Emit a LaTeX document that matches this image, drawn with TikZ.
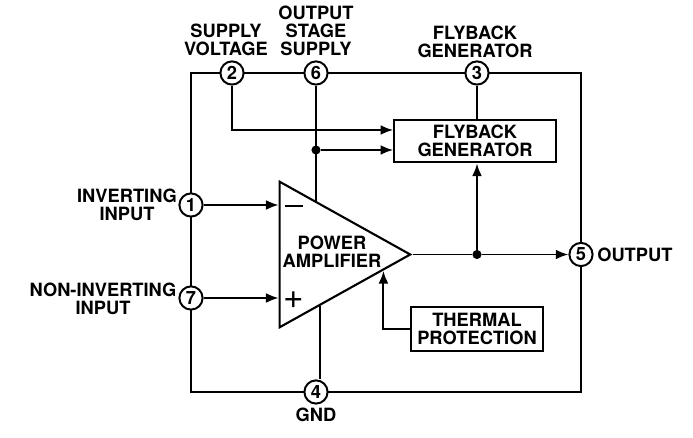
\documentclass[tikz,border=0pt]{standalone}
\usepackage{fontspec}
\setmainfont{TeX Gyre Heros}
\usetikzlibrary{positioning, arrows.meta, shapes.geometric, calc}
\begin{document}
\begin{tikzpicture}[
  x=0.025cm, y=-0.025cm,
  wire/.style={line width=1.4pt},
  sig/.style={line width=1.4pt, -{Latex[length=9pt,width=7pt]}},
  pin/.style={circle, draw, line width=1.4pt, fill=white, minimum size=16.5pt, inner sep=0pt, font=\fontsize{13}{13}\selectfont\bfseries},
  block/.style={draw, line width=1.5pt, fill=white, align=center, inner sep=0pt, font=\fontsize{13}{13}\selectfont\bfseries},
  lbl/.style={align=center, inner sep=0pt, font=\fontsize{13}{13}\selectfont\bfseries},
  dot/.style={circle, fill=black, minimum size=6.5pt, inner sep=0pt},
]
  \useasboundingbox (0,0) rectangle (693,438);
  % outer frame with the pins on it
  \coordinate (tl) at (191,73);
  \coordinate (br) at (581,392);
  \draw[line width=1.5pt] (tl) rectangle (br);

  % amplifier
  \node[isosceles triangle, isosceles triangle stretches, draw, line width=1.5pt, fill=white,
        minimum width=146*0.7087pt, minimum height=131*0.7087pt, inner sep=0pt, anchor=apex]
        (amp) at (413,254.5) {};
  \node[lbl] (amptext) at (332,252) {POWER\\AMPLIFIER};
  \node[lbl] (minus) at (294,206) {\rule{12.5pt}{1pt}};
  \node[lbl, font=\fontsize{25}{25}\selectfont] (plus) at (293.5,300) {+};
  \coordinate (ampsup) at ($(amp.left corner)!0.276!(amp.apex)$);
  \coordinate (ampth) at ($(amp.right corner)!0.78!(amp.apex)$);
  \coordinate (ampgnd) at ($(amp.right corner)!0.31!(amp.apex)$);

  % blocks
  \node[block, minimum width=162*0.7087pt, minimum height=43*0.7087pt] (fly) at (475,141) {FLYBACK\\GENERATOR};
  \node[block, minimum width=132*0.7087pt, minimum height=44*0.7087pt] (therm) at (477,329) {THERMAL\\PROTECTION};

  % pins
  \node[pin] (p2) at (232,73) {2};
  \node[pin] (p6) at (316,73) {6};
  \node[pin] (p3) at (477,73) {3};
  \node[pin] (p1) at (191,205) {1};
  \node[pin] (p7) at (191,298) {7};
  \node[pin] (p5) at (581,254.5) {5};
  \node[pin] (p4) at (316,392) {4};

  % junctions
  \node[dot] (j1) at (316,150) {};
  \node[dot] (j2) at (477,254.5) {};

  % connections
  \draw[sig] (p2) |- (fly.west |- 0,130);
  \draw[wire] (p6) -- (p6 |- ampsup);
  \draw[sig] (j1) -- (fly.west |- j1);
  \draw[wire] (p3) -- (fly.north -| p3);
  \draw[sig] (p1) -- (amp.west |- p1);
  \draw[sig] (p7) -- (amp.west |- p7);
  \draw[wire] (amp.apex) -- (j2);
  \draw[sig] (j2) -- (p5);
  \draw[sig] (j2) -- (fly.south -| j2);
  \draw[sig] (therm.west) -| (ampth);
  \draw[wire] (ampgnd) -- (ampgnd |- p4.north);

  % labels
  \node[lbl] (l2) at (226,40) {SUPPLY\\VOLTAGE};
  \node[lbl] (l6) at (316,31) {OUTPUT\\STAGE\\SUPPLY};
  \node[lbl] (l3) at (475,42) {FLYBACK\\GENERATOR};
  \node[lbl] (l1) at (127,205) {INVERTING\\INPUT};
  \node[lbl] (l7) at (103,299) {NON-INVERTING\\INPUT};
  \node[lbl, anchor=west] (l5) at (597,255) {OUTPUT};
  \node[lbl] (l4) at (316,415) {GND};
\end{tikzpicture}
\end{document}
